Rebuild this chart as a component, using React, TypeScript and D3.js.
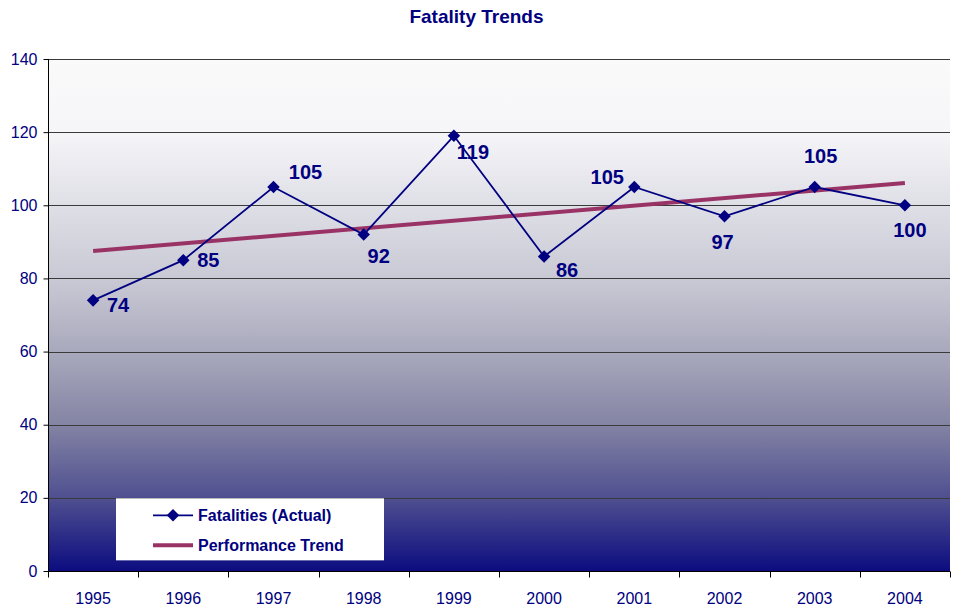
import React, { useEffect, useRef } from "react";
import * as d3 from "d3";

const years = ["1995", "1996", "1997", "1998", "1999", "2000", "2001", "2002", "2003", "2004"];
const fatalities = [74, 85, 105, 92, 119, 86, 105, 97, 105, 100];
const yTicks = [0, 20, 40, 60, 80, 100, 120, 140];
// label placement relative to each point (dx, dy)
const labelDx = [25, 25, 32, 15, 19, 23, -27, -2, 6, 5];
const labelDy = [6, 2, -13, 23, 18, 15, -8, 27, -29, 26];

const NAVY = "#000080";
const TREND = "#993366";
const FONT = "Arial, 'Liberation Sans', sans-serif";

const width = 953;
const height = 609;
const margin = { top: 59, right: 3, bottom: 38, left: 48 };

const Chart = () => {
  const svgRef = useRef<SVGSVGElement | null>(null);

  useEffect(() => {
    const svg = d3.select(svgRef.current);
    svg.selectAll("*").remove();

    const innerW = width - margin.left - margin.right;
    const innerH = height - margin.top - margin.bottom;

    const x = d3.scaleBand().domain(years).range([0, innerW]);
    const y = d3.scaleLinear().domain([0, 140]).range([innerH, 0]);
    const cx = (i: number) => (x(years[i]) as number) + x.bandwidth() / 2;

    const defs = svg.append("defs");
    const grad = defs
      .append("linearGradient")
      .attr("id", "bg")
      .attr("x1", 0)
      .attr("y1", 0)
      .attr("x2", 0)
      .attr("y2", 1);
    [
      [0, "#fafafa"],
      [0.14, "#f6f6f9"],
      [0.29, "#dedee6"],
      [0.43, "#c9c9d5"],
      [0.57, "#a9a9bd"],
      [0.71, "#8585a5"],
      [0.86, "#4e4e90"],
      [1, "#0c0c80"]
    ].forEach(([o, c]) => grad.append("stop").attr("offset", o as number).attr("stop-color", c as string));

    svg
      .append("text")
      .attr("x", width / 2)
      .attr("y", 23)
      .attr("text-anchor", "middle")
      .style("font-family", FONT)
      .style("font-size", "19px")
      .style("font-weight", "bold")
      .style("fill", NAVY)
      .text("Fatality Trends");

    const g = svg.append("g").attr("transform", `translate(${margin.left},${margin.top})`);

    g.append("rect").attr("width", innerW).attr("height", innerH).attr("fill", "url(#bg)");

    // gridlines
    g.selectAll("line.grid")
      .data(yTicks.filter((t) => t > 0))
      .enter()
      .append("line")
      .attr("class", "grid")
      .attr("x1", 0)
      .attr("x2", innerW)
      .attr("y1", (d) => Math.round(y(d)) + 0.5)
      .attr("y2", (d) => Math.round(y(d)) + 0.5)
      .attr("stroke", "#3a3a3a")
      .attr("stroke-width", 1);

    // y axis
    const yAxis = g
      .append("g")
      .attr("transform", "translate(0.5,0)")
      .call(d3.axisLeft(y).tickValues(yTicks).tickSize(5).tickPadding(6));
    yAxis.select(".domain").attr("stroke", "#000").attr("d", `M0,0V${innerH}`);
    yAxis.selectAll(".tick line").attr("stroke", "#000");
    yAxis
      .selectAll(".tick text")
      .style("font-family", FONT)
      .style("font-size", "16px")
      .style("fill", NAVY);

    // x axis
    const xAxis = g.append("g").attr("transform", `translate(0,${innerH + 0.5})`);
    xAxis
      .append("line")
      .attr("x1", 0)
      .attr("x2", innerW)
      .attr("stroke", "#000");
    xAxis
      .selectAll("line.tick")
      .data(d3.range(years.length + 1))
      .enter()
      .append("line")
      .attr("class", "tick")
      .attr("x1", (i) => Math.round(i * x.bandwidth()) + 0.5)
      .attr("x2", (i) => Math.round(i * x.bandwidth()) + 0.5)
      .attr("y1", 0)
      .attr("y2", 6)
      .attr("stroke", "#000");
    xAxis
      .selectAll("text")
      .data(years)
      .enter()
      .append("text")
      .attr("x", (d, i) => cx(i))
      .attr("y", 32)
      .attr("text-anchor", "middle")
      .style("font-family", FONT)
      .style("font-size", "16px")
      .style("fill", NAVY)
      .text((d) => d);

    // trend line: least squares fit of the actual values
    const idx = d3.range(fatalities.length);
    const mx = d3.mean(idx) as number;
    const my = d3.mean(fatalities) as number;
    const slope =
      (d3.sum(idx, (i) => (i - mx) * (fatalities[i] - my)) as number) /
      (d3.sum(idx, (i) => (i - mx) * (i - mx)) as number);
    const intercept = my - slope * mx;
    const trendLine = d3
      .line<number>()
      .x((i) => cx(i))
      .y((i) => y(intercept + slope * i));

    g.append("path")
      .datum([0, fatalities.length - 1])
      .attr("d", trendLine)
      .attr("fill", "none")
      .attr("stroke", TREND)
      .attr("stroke-width", 4);

    // actual series
    const line = d3
      .line<number>()
      .x((d, i) => cx(i))
      .y((d) => y(d));

    g.append("path")
      .datum(fatalities)
      .attr("d", line)
      .attr("fill", "none")
      .attr("stroke", NAVY)
      .attr("stroke-width", 1.8);

    const diamond = d3.symbol().type(d3.symbolDiamond2).size(100);
    g.selectAll("path.marker")
      .data(fatalities)
      .enter()
      .append("path")
      .attr("class", "marker")
      .attr("d", diamond)
      .attr("transform", (d, i) => `translate(${cx(i)},${y(d)})`)
      .attr("fill", NAVY);

    g.selectAll("text.label")
      .data(fatalities)
      .enter()
      .append("text")
      .attr("class", "label")
      .attr("x", (d, i) => cx(i) + labelDx[i])
      .attr("y", (d, i) => y(d) + labelDy[i])
      .attr("text-anchor", "middle")
      .attr("dominant-baseline", "middle")
      .style("font-family", FONT)
      .style("font-size", "20px")
      .style("font-weight", "bold")
      .style("fill", NAVY)
      .text((d) => d);

    // legend
    const lg = g.append("g").attr("transform", `translate(68,${y(20) + 0.5})`);
    lg.append("rect").attr("width", 268).attr("height", 62).attr("fill", "#fff");
    lg.append("line")
      .attr("x1", 37)
      .attr("x2", 77)
      .attr("y1", 17)
      .attr("y2", 17)
      .attr("stroke", NAVY)
      .attr("stroke-width", 1.8);
    lg.append("path")
      .attr("d", diamond)
      .attr("transform", "translate(57,17)")
      .attr("fill", NAVY);
    lg.append("line")
      .attr("x1", 37)
      .attr("x2", 77)
      .attr("y1", 47)
      .attr("y2", 47)
      .attr("stroke", TREND)
      .attr("stroke-width", 4);
    const legendLabels = ["Fatalities (Actual)", "Performance Trend"];
    lg.selectAll("text")
      .data(legendLabels)
      .enter()
      .append("text")
      .attr("x", 82)
      .attr("y", (d, i) => 18 + i * 30)
      .attr("dominant-baseline", "middle")
      .style("font-family", FONT)
      .style("font-size", "16px")
      .style("font-weight", "bold")
      .style("fill", NAVY)
      .text((d) => d);
  }, []);

  return <svg ref={svgRef} width={width} height={height} style={{ display: "block" }}></svg>;
};

export default function App() {
  return (
    <div style={{ position: "absolute", left: 0, top: 0 }}>
      <Chart />
    </div>
  );
}
